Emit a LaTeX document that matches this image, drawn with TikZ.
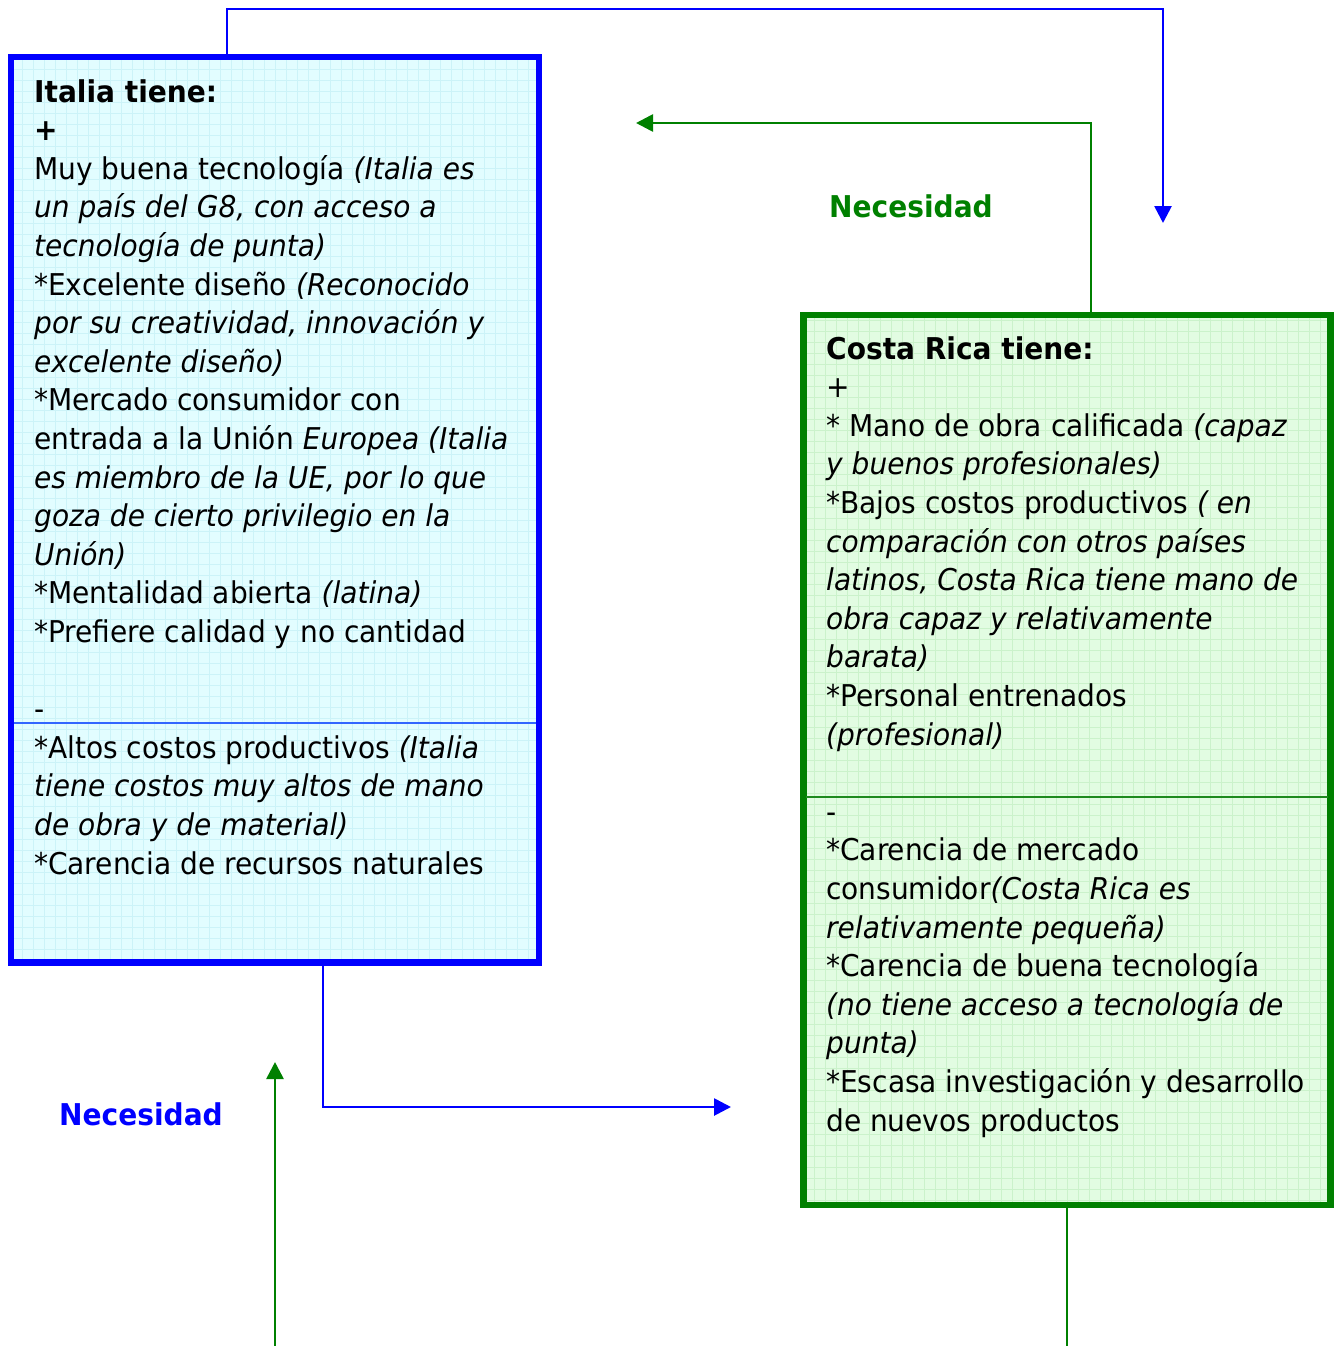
\documentclass[tikz,border=0pt]{standalone}
\usepackage{fontspec}
\setmainfont{DejaVu Sans}[FakeStretch=0.935]
\usetikzlibrary{arrows.meta}
\definecolor{cyanbg}{HTML}{E2FDFF}
\definecolor{cyangrid}{HTML}{CCF3F8}
\definecolor{greenbg}{HTML}{E2FCE2}
\definecolor{greengrid}{HTML}{CBF2CB}
\definecolor{pblue}{HTML}{0000FF}
\definecolor{pgreen}{HTML}{008000}
\definecolor{divblue}{HTML}{3366FF}
\definecolor{divgreen}{HTML}{1F8A1F}
\tikzset{
  gridbox/.style 2 args={draw=#1, line width=6.2pt, fill=#2bg, inner sep=0pt,
    path picture={\draw[#2grid, line width=0.8pt, step=11pt]
      (path picture bounding box.south west) grid (path picture bounding box.north east);}},
  boxtext/.style={anchor=north west, inner sep=0pt, align=left,
    font={\fontsize{30}{38.6}\selectfont}},
  conn/.style={line width=2.7pt, color=#1},
  arr/.style={conn=#1, -{Triangle[length=17pt,width=17pt]}},
  divider/.style={line width=2.2pt, color=#1, shorten <=6pt, shorten >=6pt},
  label/.style={font={\fontsize{30}{36}\selectfont\bfseries}, text=#1, inner sep=0pt}
}
\begin{document}
\begin{tikzpicture}[x=1pt,y=-1pt]
\useasboundingbox (0,0) rectangle (1337,1346);
% boxes
\node[gridbox={pblue}{cyan}, minimum width=528pt, minimum height=905.5pt] (italia) at (275,509.75) {};
\node[gridbox={pgreen}{green}, minimum width=527pt, minimum height=890pt] (costa) at (1067,760) {};
% dividers
\coordinate (divA) at (0,723);
\coordinate (divB) at (0,797);
\draw[divider=divblue] (italia.west |- divA) -- (italia.east |- divA);
\draw[divider=divgreen] (costa.west |- divB) -- (costa.east |- divB);
% texts
\node[boxtext] (italiaText) at (34,79) {\textbf{Italia tiene:}\\
\textbf{+}\\
Muy buena tecnología \textit{(Italia es}\\
\textit{un país del G8, con acceso a}\\
\textit{tecnología de punta)}\\
*Excelente diseño \textit{(Reconocido}\\
\textit{por su creatividad, innovación y}\\
\textit{excelente diseño)}\\
*Mercado consumidor con\\
entrada a la Unión \textit{Europea (Italia}\\
\textit{es miembro de la UE, por lo que}\\
\textit{goza de cierto privilegio en la}\\
\textit{Unión)}\\
*Mentalidad abierta \textit{(latina)}\\
*Prefiere calidad y no cantidad\\
\mbox{}\\
-\\
*Altos costos productivos \textit{(Italia}\\
\textit{tiene costos muy altos de mano}\\
\textit{de obra y de material)}\\
*Carencia de recursos naturales};
\node[boxtext] (costaText) at (826,336) {\textbf{Costa Rica tiene:}\\
+\\
* Mano de obra calificada \textit{(capaz}\\
\textit{y buenos profesionales)}\\
*Bajos costos productivos \textit{( en}\\
\textit{comparación con otros países}\\
\textit{latinos, Costa Rica tiene mano de}\\
\textit{obra capaz y relativamente}\\
\textit{barata)}\\
*Personal entrenados\\
\textit{(profesional)}\\
\mbox{}\\
-\\
*Carencia de mercado\\
consumidor\textit{(Costa Rica es}\\
\textit{relativamente pequeña)}\\
*Carencia de buena tecnología\\
\textit{(no tiene acceso a tecnología de}\\
\textit{punta)}\\
*Escasa investigación y desarrollo\\
de nuevos productos};
% labels
\node[label=pgreen] (needG) at (911,206) {Necesidad};
\node[label=pblue] (needB) at (141,1114) {Necesidad};
% connectors
\coordinate (blueTop) at (227,9);
\coordinate (blueTip) at (1163,223);
\draw[arr=pblue] (blueTop |- italia.north) -- (blueTop) -| (blueTip);
\coordinate (greenCorner) at (1091,123);
\coordinate (greenTip) at (636,123);
\draw[arr=pgreen] (greenCorner |- costa.north) -- (greenCorner) -- (greenTip);
\coordinate (blueCorner) at (323,1107);
\coordinate (blueTip2) at (731,1107);
\draw[arr=pblue] (blueCorner |- italia.south) -- (blueCorner) -- (blueTip2);
\coordinate (greenEnd) at (1067,1346);
\draw[conn=pgreen] (greenEnd |- costa.south) -- (greenEnd);
\coordinate (greenStart) at (275,1346);
\coordinate (greenTip2) at (275,1062);
\draw[arr=pgreen] (greenStart) -- (greenTip2);
\end{tikzpicture}
\end{document}
